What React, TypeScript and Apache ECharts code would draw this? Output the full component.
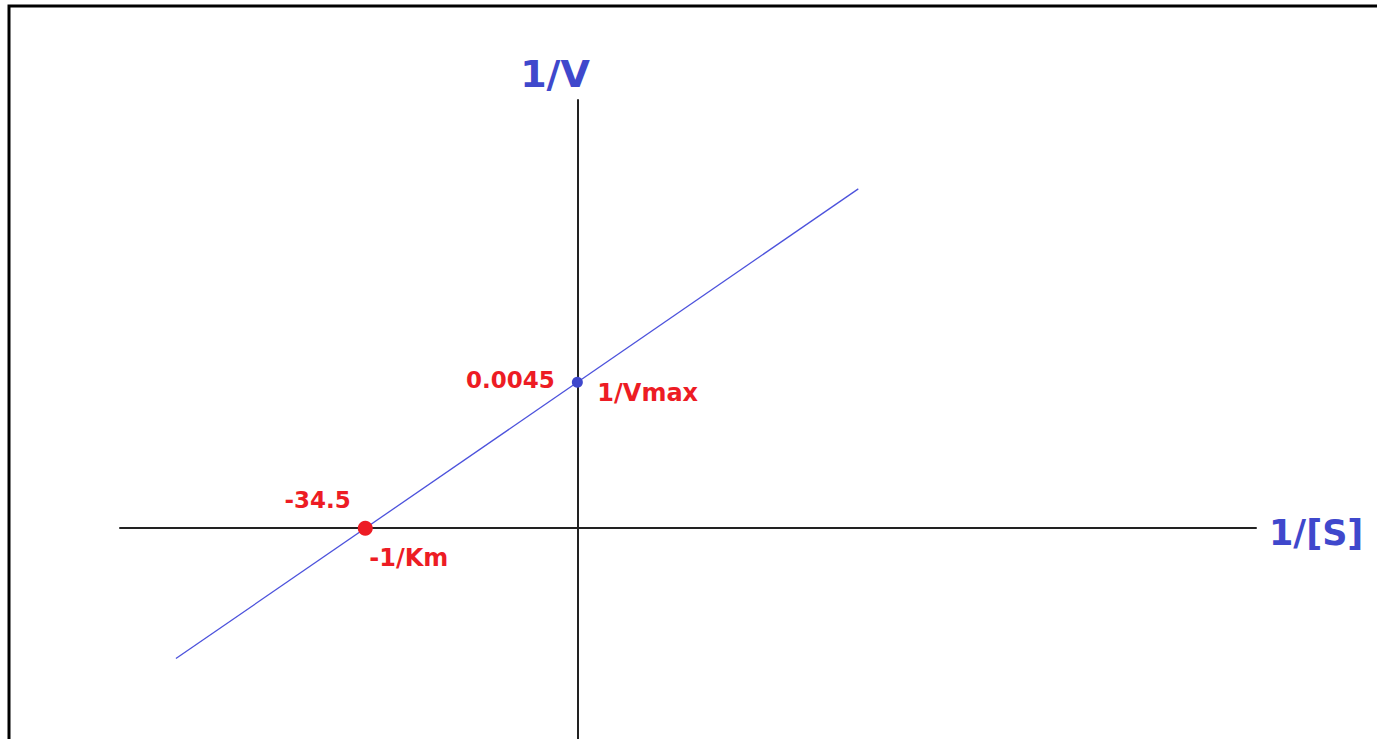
import React, { useEffect, useRef } from "react";
import * as echarts from "echarts";

// Lineweaver–Burk plot values
const xRange = [-74.4, 110.4];
const yRange = [-0.0065, 0.0132];
const lineX = [-65.3, 45.7];
const lineY = [-0.00402, 0.01046];
const yIntercept = 0.0045; // 1/Vmax
const xIntercept = -34.5; // -1/Km
const yInterceptLabels = ["0.0045", "1/Vmax"];
const xInterceptLabels = ["-34.5", "-1/Km"];
const axisTitles = ["1/[S]", "1/V"];

const BLUE = "#3f48cc";
const RED = "#ed1c24";
const FONT = "DejaVu Sans";

export default function App() {
  const ref = useRef<HTMLDivElement>(null);
  useEffect(() => {
    if (!ref.current) return;
    const chart = echarts.init(ref.current, undefined, { renderer: "svg" });
    const lbl = (text: string, position: any, offset: number[], size = 23) => ({
      show: true,
      formatter: text,
      position,
      offset,
      color: RED,
      opacity: 1,
      fontSize: size,
      fontWeight: "bold",
      fontFamily: FONT,
    });
    chart.setOption({
      animation: false,
      backgroundColor: "#ffffff",
      grid: { left: 120, top: 100, width: 1136, bottom: 0, containLabel: false },
      xAxis: {
        type: "value",
        min: xRange[0],
        max: xRange[1],
        axisLine: { show: true, onZero: true, lineStyle: { color: "#222", width: 2 } },
        axisTick: { show: false },
        axisLabel: { show: false },
        splitLine: { show: false },
      },
      yAxis: {
        type: "value",
        min: yRange[0],
        max: yRange[1],
        axisLine: { show: true, onZero: true, lineStyle: { color: "#222", width: 2 } },
        axisTick: { show: false },
        axisLabel: { show: false },
        splitLine: { show: false },
      },
      series: [
        {
          type: "line",
          data: lineX.map((x, i) => [x, lineY[i]]),
          showSymbol: false,
          lineStyle: { color: "#4c52dc", width: 1.3 },
          z: 2,
        },
        {
          type: "scatter",
          z: 3,
          itemStyle: { opacity: 1 },
          data: [
            {
              value: [0, yIntercept],
              symbolSize: 11,
              itemStyle: { color: BLUE, opacity: 1 },
              label: lbl(yInterceptLabels[0], "left", [-12, -2]),
            },
            {
              value: [0, yIntercept],
              symbolSize: 0,
              label: lbl(yInterceptLabels[1], "right", [15, 11], 24),
            },
            {
              value: [xIntercept, 0],
              symbolSize: 15,
              itemStyle: { color: RED, opacity: 1 },
              label: lbl(xInterceptLabels[0], "left", [-2, -28]),
            },
            {
              value: [xIntercept, 0],
              symbolSize: 0,
              label: lbl(xInterceptLabels[1], "right", [-1, 30], 24),
            },
          ],
        },
      ],
      graphic: [
        {
          type: "rect",
          shape: { x: 9, y: 6, width: 1420, height: 800 },
          style: { fill: "none", stroke: "#000", lineWidth: 3 },
          silent: true,
        },
        {
          type: "text",
          x: 1269,
          y: 533,
          style: {
            text: axisTitles[0],
            fill: BLUE,
            font: `bold 35px "${FONT}"`,
            textVerticalAlign: "middle",
          },
        },
        {
          type: "text",
          x: 555,
          y: 74,
          style: {
            text: axisTitles[1],
            fill: BLUE,
            font: `bold 38px "${FONT}"`,
            textAlign: "center",
            textVerticalAlign: "middle",
          },
        },
      ],
    });
    return () => chart.dispose();
  }, []);
  return (
    <div
      ref={ref}
      style={{ position: "fixed", left: 0, top: 0, width: 1377, height: 739, background: "#fff" }}
    />
  );
}
